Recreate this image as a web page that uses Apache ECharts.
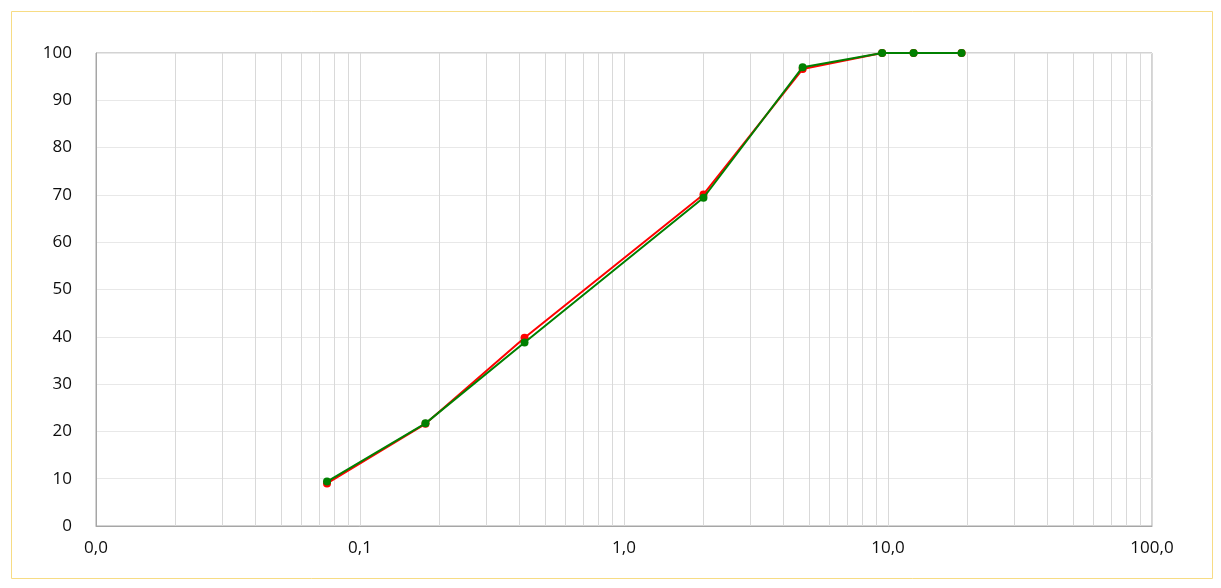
<!DOCTYPE html>
<html>
<head>
<meta charset="utf-8">
<script src="https://cdn.jsdelivr.net/npm/echarts@6/dist/echarts.min.js"></script>
<style>
html,body{margin:0;padding:0;background:#fff;}
#c{width:1221px;height:588px;}
</style>
</head>
<body>
<div id="c"></div>
<script>
// Sieve sizes (mm)
var sizes = [0.075, 0.177, 0.42, 2.0, 4.75, 9.5, 12.5, 19.0];
// Percent passing
var redSeries = [9.0, 21.6, 39.8, 70.1, 96.6, 100, 100, 100];
var greenSeries = [9.4, 21.7, 38.8, 69.4, 97.0, 100, 100, 100];
// Minor log grid lines
var minorGrid = [0.02,0.03,0.04,0.05,0.06,0.07,0.08,0.09,
                 0.2,0.3,0.4,0.5,0.6,0.7,0.8,0.9,
                 2,3,4,5,6,7,8,9,
                 20,30,40,50,60,70,80,90];

var chart = echarts.init(document.getElementById('c'), null, {renderer:'canvas'});
var font = 'Open Sans';
function pairs(ys){ return sizes.map(function(x,i){ return [x, ys[i]]; }); }

chart.setOption({
  animation:false,
  backgroundColor:'#fff',
  graphic:[{type:'rect', shape:{x:11.5,y:11.5,width:1201,height:567}, style:{fill:null, stroke:'#f7dc84', lineWidth:1}, z:-10}],
  grid:{left:96, right:69, top:53, bottom:62, show:true, borderColor:'#a6a6a6', borderWidth:1, backgroundColor:'transparent'},
  xAxis:{
    type:'log', logBase:10, min:0.01, max:100,
    axisLine:{show:true, lineStyle:{color:'#a6a6a6'}},
    axisTick:{show:false},
    splitLine:{show:true, lineStyle:{color:'#d9d9d9', width:1}},
    axisLabel:{fontFamily:font, fontSize:17, color:'#0d0d0d', margin:14,
      formatter:function(v){ return v.toFixed(1).replace('.', ','); }}
  },
  yAxis:{
    type:'value', min:0, max:100, interval:10,
    axisLine:{show:true, lineStyle:{color:'#a6a6a6'}},
    axisTick:{show:false},
    splitLine:{show:true, lineStyle:{color:'#e8e8e8', width:1}},
    axisLabel:{fontFamily:font, fontSize:17, color:'#0d0d0d', margin:24}
  },
  series:[
    {
      type:'custom', silent:true, z:0,
      data: minorGrid,
      encode:{x:0},
      renderItem:function(params, api){
        var x = api.value(0);
        var p1 = api.coord([x, 0]);
        var p2 = api.coord([x, 100]);
        var xx = Math.round(p1[0]) + 0.5;
        return {type:'line', shape:{x1:xx, y1:p1[1], x2:xx, y2:p2[1]}, style:{stroke:'#d9d9d9', lineWidth:1}};
      }
    },
    {
      name:'red', type:'line', data:pairs(redSeries), z:3,
      symbol:'circle', symbolSize:8,
      lineStyle:{color:'#ff0000', width:2},
      itemStyle:{color:'#ff0000'}
    },
    {
      name:'green', type:'line', data:pairs(greenSeries), z:4,
      symbol:'circle', symbolSize:8,
      lineStyle:{color:'#008000', width:2},
      itemStyle:{color:'#008000'}
    }
  ]
});
</script>
</body>
</html>
